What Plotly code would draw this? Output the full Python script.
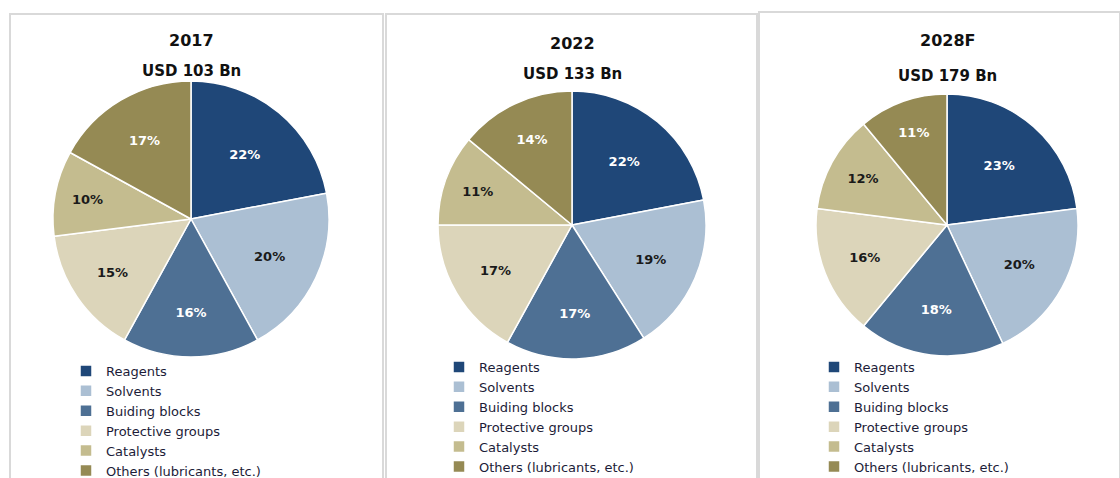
import plotly.graph_objects as go

# Data
segments = ["Reagents", "Solvents", "Buiding blocks", "Protective groups",
            "Catalysts", "Others (lubricants, etc.)"]
years = ["2017", "2022", "2028F"]
totals = ["USD 103 Bn", "USD 133 Bn", "USD 179 Bn"]
share_2017 = [22, 20, 16, 15, 10, 17]
share_2022 = [22, 19, 17, 17, 11, 14]
share_2028 = [23, 20, 18, 16, 12, 11]
shares = [share_2017, share_2022, share_2028]

colors = ["#1F4778", "#ABBFD3", "#4E7094", "#DCD5BA", "#C4BC8F", "#958A54"]
text_colors = ["white", "#1a1a1a", "white", "#1a1a1a", "#1a1a1a", "white"]

W, H = 1120, 478
FONT = "DejaVu Sans"

# panel layout (pixels)
centers = [(191, 219), (572, 225), (947, 225)]
radii = [138, 134, 131]
title_y = [40, 43, 40]
sub_y = [71, 74, 76]
legend_pos = [(66, 356), (439, 352), (814, 352)]
panels = [(10, 383, 14), (386, 757, 14), (759, 1120, 12)]

fig = go.Figure()

for i, (yr, vals) in enumerate(zip(years, shares)):
    cx, cy = centers[i]
    r = radii[i]
    leg = "legend" if i == 0 else f"legend{i + 1}"
    fig.add_trace(go.Pie(
        labels=segments, values=vals, sort=False, direction="clockwise",
        rotation=0, legendgroup=f"g{i}",
        marker=dict(colors=colors, line=dict(color="white", width=1.5)),
        texttemplate="<b>%{value}%</b>", textposition="inside",
        insidetextorientation="horizontal",
        insidetextfont=dict(family=FONT, size=13, color=text_colors),
        domain=dict(x=[(cx - r) / W, (cx + r) / W],
                    y=[1 - (cy + r) / H, 1 - (cy - r) / H]),
        legend=leg, hoverinfo="label+percent",
    ))

    fig.add_annotation(x=cx / W, y=1 - title_y[i] / H, xref="paper", yref="paper",
                       xanchor="center", yanchor="middle",
                       text=f"<b>{yr}</b>", showarrow=False,
                       font=dict(family=FONT, size=16, color="#111111"))
    fig.add_annotation(x=cx / W, y=1 - sub_y[i] / H, xref="paper", yref="paper",
                       xanchor="center", yanchor="middle",
                       text=f"<b>{totals[i]}</b>", showarrow=False,
                       font=dict(family=FONT, size=15, color="#111111"))

    x0, x1, y0 = panels[i]
    fig.add_shape(type="path", xref="paper", yref="paper",
                  path=f"M {x0 / W},0 L {x0 / W},{1 - y0 / H} L {x1 / W},{1 - y0 / H} L {x1 / W},0",
                  line=dict(color="#d9d9d9", width=2))

legend_style = dict(font=dict(family=FONT, size=13, color="#1c1c38"),
                    bgcolor="rgba(0,0,0,0)", xanchor="left", yanchor="top",
                    itemclick=False, itemdoubleclick=False)
for i, (lx, ly) in enumerate(legend_pos):
    key = "legend" if i == 0 else f"legend{i + 1}"
    fig.update_layout({key: dict(x=lx / W, y=1 - ly / H, **legend_style)})

fig.update_layout(
    width=W, height=H,
    margin=dict(l=0, r=0, t=0, b=0, autoexpand=False),
    paper_bgcolor="white", plot_bgcolor="white",
    showlegend=True,
)

fig.write_html("out.html", config={"displayModeBar": False},
               post_script="document.body.style.margin='0';")
